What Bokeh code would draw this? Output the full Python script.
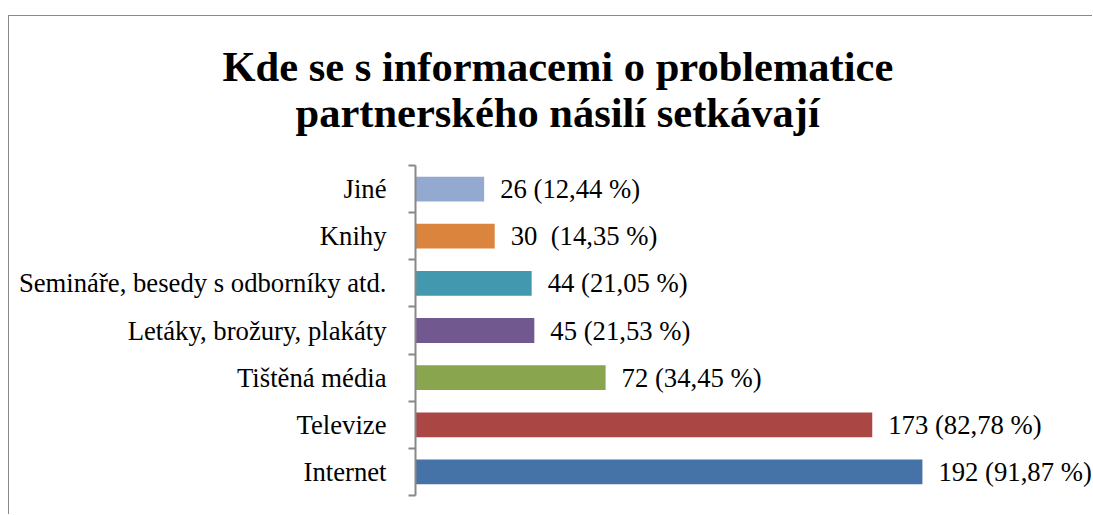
from bokeh.plotting import figure
from bokeh.models import ColumnDataSource, FixedTicker, LabelSet, Range1d, Title, LinearAxis
from bokeh.core.properties import value
from bokeh.embed import file_html
from bokeh.resources import INLINE

# ---- data ----
categories = ["Internet", "Televize", "Tištěná média", "Letáky, brožury, plakáty",
              "Semináře, besedy s odborníky atd.", "Knihy", "Jiné"]
counts = [192, 173, 72, 45, 44, 30, 26]
value_labels = ["192 (91,87 %)", "173 (82,78 %)", "72 (34,45 %)", "45 (21,53 %)",
                "44 (21,05 %)", "30 \u00a0(14,35 %)", "26 (12,44 %)"]
colors = ["#4572A7", "#AA4643", "#89A54E", "#71588F", "#4198AF", "#DB843D", "#93A9CF"]
title_lines = ["Kde se s informacemi o problematice", "partnerského násilí setkávají"]

pos = list(range(len(categories)))
src = ColumnDataSource(dict(y=pos, right=counts, label=value_labels, color=colors))

FONT = "Liberation Serif"
LABEL_SIZE = "26.7px"

p = figure(width=1084, height=499, x_range=Range1d(0, 256.8), y_range=Range1d(-0.5, len(categories) - 0.5),
           output_backend="svg", toolbar_location=None, x_axis_location=None, y_axis_location=None,
           min_border_left=406, min_border_top=149, min_border_bottom=20, min_border_right=0)
p.outline_line_color = None
p.xgrid.visible = False
p.ygrid.visible = False
p.background_fill_color = "white"
p.border_fill_color = "white"
p.styles = {"margin-top": "15px", "margin-left": "8px",
            "border-top": "1px solid #898989", "border-left": "1px solid #898989"}

p.hbar(y="y", left=0, right="right", height=0.526, color="color", line_color=None, source=src)

labels = LabelSet(x="right", y="y", text="label", source=src, x_offset=16,
                  text_baseline="middle", text_align="left",
                  text_font=value(FONT), text_font_size=LABEL_SIZE, text_color="black")
p.add_layout(labels)

ax = LinearAxis(ticker=FixedTicker(ticks=pos, minor_ticks=[i - 0.5 for i in range(len(categories) + 1)]))
ax.major_label_overrides = {i: c for i, c in zip(pos, categories)}
ax.major_tick_out = 0
ax.major_tick_in = 0
ax.minor_tick_out = 7
ax.minor_tick_in = 0
ax.axis_line_color = "#888888"
ax.axis_line_width = 2
ax.minor_tick_line_color = "#888888"
ax.minor_tick_line_width = 2
ax.major_label_standoff = 22
ax.major_label_text_font = FONT
ax.major_label_text_font_size = LABEL_SIZE
ax.major_label_text_color = "black"
p.add_layout(ax, "left")

spacer = Title(text=" ", align="left", text_font_size="1px", standoff=27)
t2 = Title(text=title_lines[1], align="left", offset=-120, text_font=FONT,
           text_font_size="42.5px", text_font_style="bold", text_color="black", standoff=0)
t1 = Title(text=title_lines[0], align="left", offset=-193, text_font=FONT,
           text_font_size="42.5px", text_font_style="bold", text_color="black", standoff=-6)
p.add_layout(spacer, "above")
p.add_layout(t2, "above")
p.add_layout(t1, "above")

open("out.html", "w").write(file_html(p, INLINE))
